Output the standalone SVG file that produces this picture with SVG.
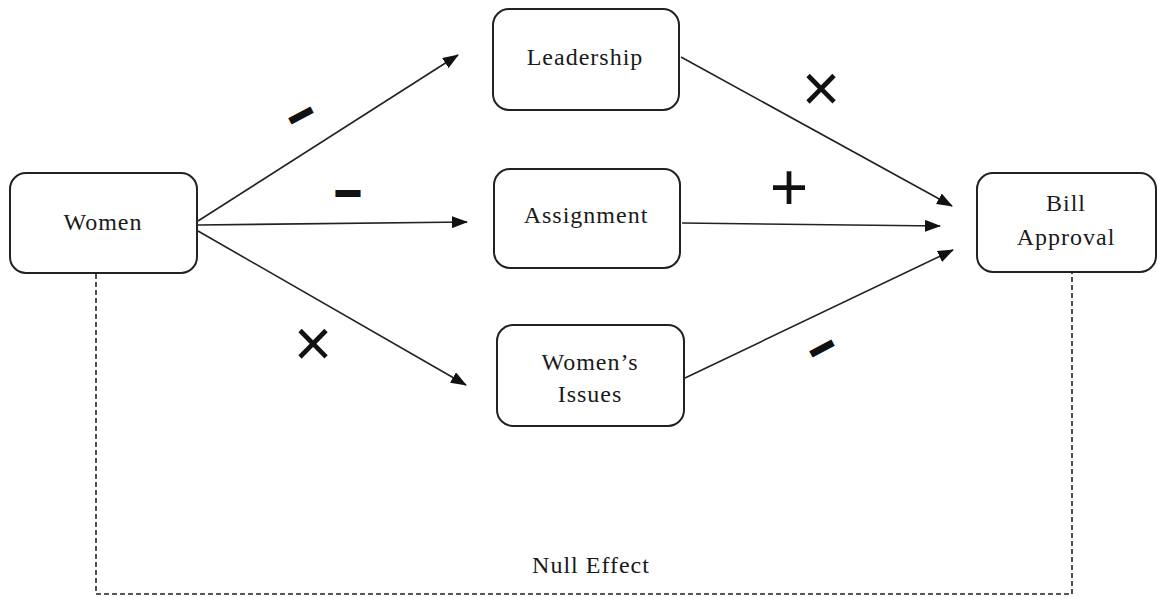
<svg xmlns="http://www.w3.org/2000/svg" width="1157" height="598" viewBox="0 0 1157 598">
<defs>
<marker id="ah" markerWidth="16" markerHeight="12" refX="15" refY="6" orient="auto" markerUnits="userSpaceOnUse">
<path d="M0,0 L16,6 L0,12 Z" fill="#111"/>
</marker>
<style>
.box{fill:#fff;stroke:#222;stroke-width:2}
.lbl{font-family:"Liberation Serif","Times New Roman",serif;font-size:24px;letter-spacing:1px;fill:#1a1a1a;text-anchor:middle}
.ln{stroke:#222;stroke-width:1.6;fill:none}
.sg{font-family:"Liberation Sans",Arial,sans-serif;fill:#111;text-anchor:middle}
.dash{font-size:46px;font-weight:bold;stroke:#111;stroke-width:2}
.thin{font-size:66px;stroke:none}
</style>
</defs>
<rect width="1157" height="598" fill="#fff"/>
<g id="connectors">
<path class="ln" d="M198,221 L458,55" marker-end="url(#ah)"/>
<path class="ln" d="M198,225 L467,222" marker-end="url(#ah)"/>
<path class="ln" d="M198,231 L466,385" marker-end="url(#ah)"/>
<path class="ln" d="M681,57 L952,206" marker-end="url(#ah)"/>
<path class="ln" d="M682,223 L940,226" marker-end="url(#ah)"/>
<path class="ln" d="M685,378 L953,250" marker-end="url(#ah)"/>
<path class="ln" d="M96,274 V594 H1072 V273" stroke-dasharray="5,3" stroke-width="1.4"/>
<text class="lbl" x="591" y="573">Null Effect</text>
</g>
<g id="signs">
<text class="sg dash" x="0" y="0" transform="translate(308,129) rotate(-28)">−</text>
<text class="sg dash" x="348" y="209">−</text>
<text class="sg thin" x="313" y="366">×</text>
<text class="sg thin" x="821" y="111">×</text>
<text class="sg thin" x="789" y="210">+</text>
<text class="sg dash" x="0" y="0" transform="translate(829,362) rotate(-28)">−</text>
</g>
<g id="women">
<rect class="box" x="10" y="173" width="187" height="100" rx="16"/>
<text class="lbl" x="103" y="230">Women</text>
</g>
<g id="leadership">
<rect class="box" x="493" y="9" width="186" height="101" rx="16"/>
<text class="lbl" x="585" y="65">Leadership</text>
</g>
<g id="assignment">
<rect class="box" x="494" y="169" width="186" height="99" rx="16"/>
<text class="lbl" x="586" y="223">Assignment</text>
</g>
<g id="womens-issues">
<rect class="box" x="497" y="325" width="187" height="101" rx="16"/>
<text class="lbl" x="590" y="370">Women’s</text>
<text class="lbl" x="590" y="402">Issues</text>
</g>
<g id="bill-approval">
<rect class="box" x="977" y="173" width="179" height="99" rx="16"/>
<text class="lbl" x="1066" y="211">Bill</text>
<text class="lbl" x="1066" y="245">Approval</text>
</g>
</svg>
